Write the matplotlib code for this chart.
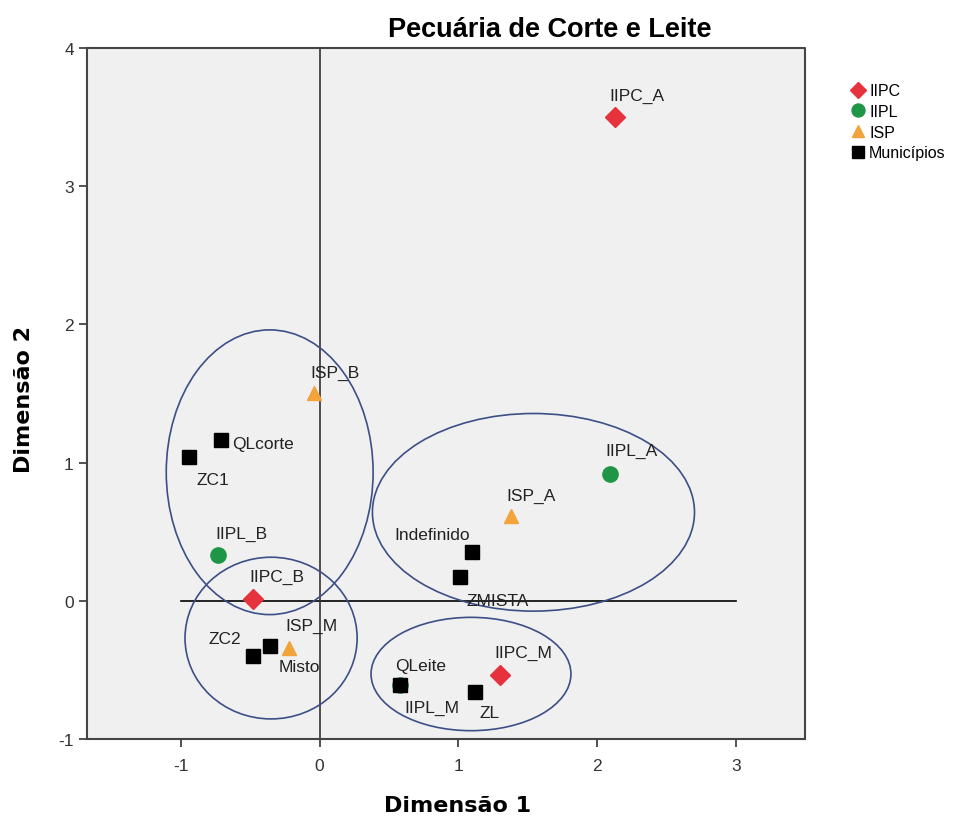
import matplotlib
matplotlib.use('Agg')
import matplotlib.pyplot as plt
from matplotlib.patches import Ellipse

plt.rcParams['font.family'] = ['Liberation Sans', 'DejaVu Sans']
plt.rcParams['axes.unicode_minus'] = False

# coordinates
iipc_labels = ['IIPC_A', 'IIPC_B', 'IIPC_M']
iipc_x = [2.13, -0.48, 1.30]
iipc_y = [3.50, 0.01, -0.54]

iipl_labels = ['IIPL_A', 'IIPL_B', 'IIPL_M']
iipl_x = [2.09, -0.73, 0.58]
iipl_y = [0.92, 0.33, -0.61]

isp_labels = ['ISP_A', 'ISP_B', 'ISP_M']
isp_x = [1.38, -0.04, -0.22]
isp_y = [0.61, 1.50, -0.34]

mun_labels = ['QLcorte', 'ZC1', 'Indefinido', 'ZMISTA', 'ZC2', 'Misto', 'QLeite', 'ZL']
mun_x = [-0.71, -0.94, 1.10, 1.01, -0.48, -0.36, 0.58, 1.12]
mun_y = [1.16, 1.04, 0.35, 0.17, -0.40, -0.33, -0.61, -0.66]

# label offsets (pixels)
offsets = {
    'IIPC_A': (22, 22), 'IIPC_B': (24, 23), 'IIPC_M': (23, 23),
    'IIPL_A': (22, 23), 'IIPL_B': (23, 22), 'IIPL_M': (32, -22),
    'ISP_A': (20, 21), 'ISP_B': (21, 21), 'ISP_M': (22, 22),
    'QLcorte': (42, -3), 'ZC1': (24, -22), 'Indefinido': (-40, 18),
    'ZMISTA': (38, -23), 'ZC2': (-28, 18), 'Misto': (30, -20),
    'QLeite': (20, 20), 'ZL': (14, -21),
}

# grouping ellipses: center x, center y, width, height
groups = [(-0.36, 0.93, 1.49, 2.06),
          (-0.35, -0.27, 1.24, 1.17),
          (1.54, 0.64, 2.32, 1.43),
          (1.09, -0.53, 1.44, 0.82)]

fig = plt.figure(figsize=(9.58, 8.2), dpi=100)
ax = fig.add_axes([0.0908, 0.0976, 0.7495, 0.8427])
ax.set_facecolor('#f0f0f0')

ax.plot([-1, 3], [0, 0], color='black', lw=1.2, zorder=1)
ax.axvline(0, color='#333333', lw=1.2, zorder=1)

for cx, cy, w, h in groups:
    ax.add_patch(Ellipse((cx, cy), w, h, fill=False, edgecolor='#3c4f86', lw=1.2, zorder=2))

series = [
    (iipc_labels, iipc_x, iipc_y, 'D', '#e5323d', 10, 'IIPC'),
    (iipl_labels, iipl_x, iipl_y, 'o', '#1f9646', 11, 'IIPL'),
    (isp_labels, isp_x, isp_y, '^', '#f2a33a', 10, 'ISP'),
    (mun_labels, mun_x, mun_y, 's', 'black', 9.5, 'Municípios'),
]

handles = []
for labels, xs, ys, mk, col, ms, name in series:
    h, = ax.plot(xs, ys, ls='none', marker=mk, color=col, markersize=ms,
                 markeredgecolor=col, zorder=3, label=name)
    handles.append(h)
    for lab, x, y in zip(labels, xs, ys):
        dx, dy = offsets[lab]
        ax.annotate(lab, (x, y), xytext=(dx, dy), textcoords='offset pixels',
                    ha='center', va='center', fontsize=12.5, color='#222222', zorder=4)

ax.set_xlim(-1.676, 3.496)
ax.set_ylim(-1, 4)
ax.set_xticks([-1, 0, 1, 2, 3])
ax.set_yticks([-1, 0, 1, 2, 3, 4])
ax.tick_params(direction='out', length=6, width=1.2, labelsize=12.5, colors='#333333')
ax.tick_params(axis='x', pad=8)
for side in ['top', 'right']:
    ax.spines[side].set_visible(False)
for side in ['left', 'bottom']:
    ax.spines[side].set_color('#444444')
    ax.spines[side].set_linewidth(1.5)
# frame of the plot area
ax.plot([-1.676, 3.496, 3.496], [4, 4, -1], color='#444444', lw=1.5, clip_on=False, zorder=5)

fig.text(458 / 958, 1 - 806 / 820, 'Dimensão 1', ha='center', va='center',
         fontsize=16, fontweight='bold', family='DejaVu Sans')
fig.text(24 / 958, 1 - 400 / 820, 'Dimensão 2', ha='center', va='center', rotation=90,
         fontsize=16, fontweight='bold', family='DejaVu Sans')

fig.text(550 / 958, 1 - 30 / 820, 'Pecuária de Corte e Leite', ha='center', va='center',
         fontsize=19.5, fontweight='bold')

fig.legend(handles=handles, loc='upper left', bbox_to_anchor=(842 / 958, 1 - 78 / 820),
           frameon=False, fontsize=11.5, handletextpad=0.1, handlelength=1.2,
           labelspacing=0.35, borderaxespad=0, markerscale=0.85)

fig.savefig('out.png', dpi=100)
